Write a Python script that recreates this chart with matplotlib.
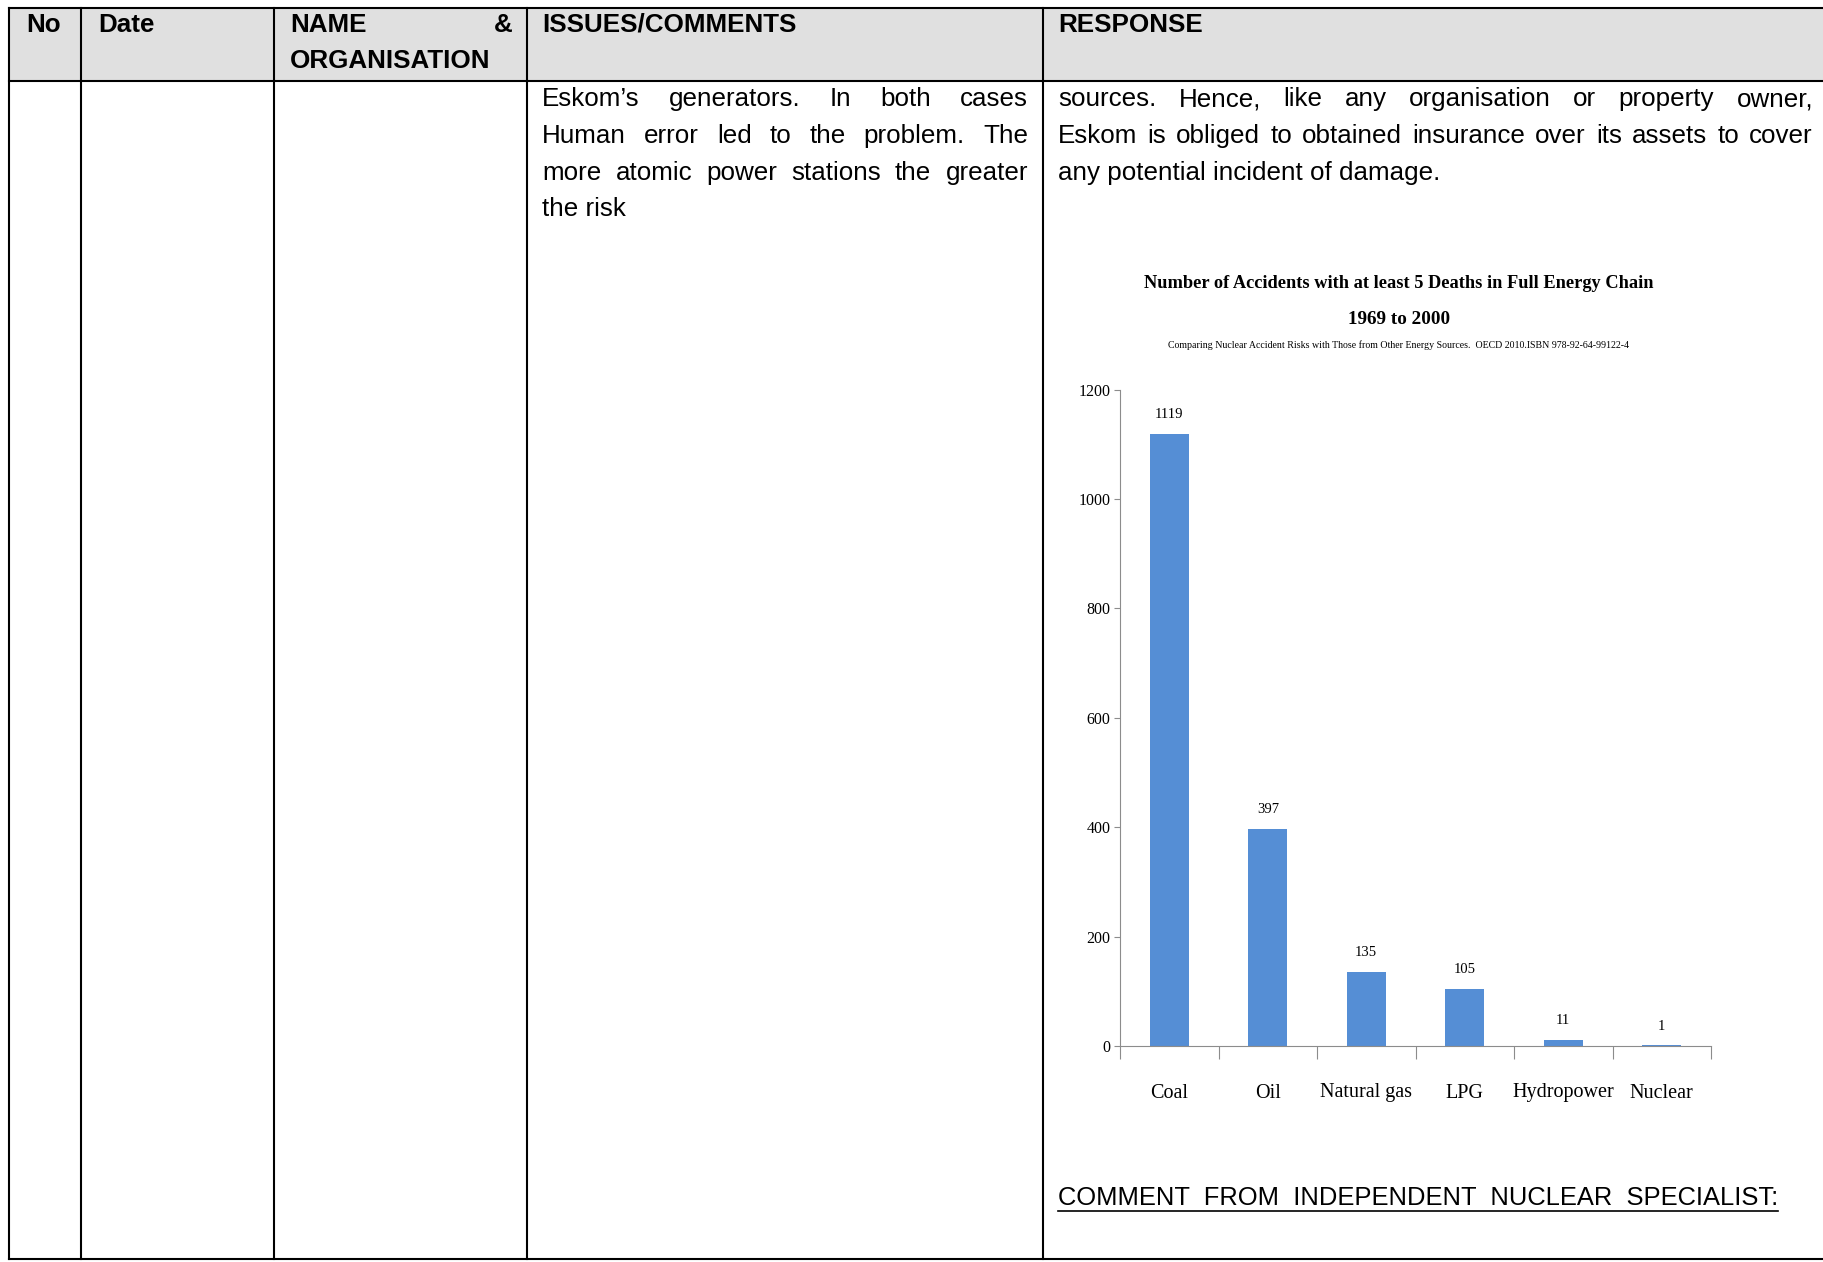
import numpy as np
import matplotlib
matplotlib.use("Agg")
import matplotlib.pyplot as plt
from matplotlib.lines import Line2D
from matplotlib.patches import Rectangle

W, H = 1823, 1262

categories = ["Coal", "Oil", "Natural gas", "LPG", "Hydropower", "Nuclear"]
accidents = [1119, 397, 135, 105, 11, 1]
y_ticks = [0, 200, 400, 600, 800, 1000, 1200]

chart_title = "Number of Accidents with at least 5 Deaths in Full Energy Chain"
chart_years = "1969 to 2000"
chart_source = ("Comparing Nuclear Accident Risks with Those from Other Energy Sources.  "
                "OECD 2010.ISBN 978-92-64-99122-4")

issues_lines = [
    "Eskom\u2019s generators. In both cases",
    "Human error led to the problem. The",
    "more atomic power stations the greater",
    "the risk",
]
response_lines = [
    "sources. Hence, like any organisation or property owner,",
    "Eskom is obliged to obtained insurance over its assets to cover",
    "any potential incident of damage.",
]
comment_heading = "COMMENT  FROM  INDEPENDENT  NUCLEAR  SPECIALIST:"

SANS = "Liberation Sans"
SERIF = "Liberation Serif"

fig = plt.figure(figsize=(W / 100, H / 100), dpi=100)
renderer = fig.canvas.get_renderer()


def fx(x):
    return x / W


def fy(y):
    return 1 - y / H


def line(x0, y0, x1, y1, lw=1.5, color="black"):
    fig.add_artist(Line2D([fx(x0), fx(x1)], [fy(y0), fy(y1)],
                          transform=fig.transFigure, color=color, lw=lw))


def put(x, y, s, **kw):
    kw.setdefault("va", "center")
    return fig.text(fx(x), fy(y), s, **kw)


def justify(lines, x0, x1, y0, step, **kw):
    # spread words so each line but the last fills x0..x1
    for i, ln in enumerate(lines):
        y = y0 + i * step
        words = ln.split()
        if i == len(lines) - 1 or len(words) < 2:
            put(x0, y, ln, **kw)
            continue
        texts = [put(0, y, w, **kw) for w in words]
        widths = [t.get_window_extent(renderer).width for t in texts]
        gap = (x1 - x0 - sum(widths)) / (len(words) - 1)
        x = x0
        for t, wd in zip(texts, widths):
            t.set_x(fx(x))
            x += wd + gap


# table frame
cols = [9, 81, 274, 527, 1043]
top, head_bot, bottom = 8, 81, 1259
fig.add_artist(Rectangle((fx(9), fy(head_bot)), fx(W) - fx(9), fy(top) - fy(head_bot),
                         transform=fig.transFigure, facecolor="#e0e0e0", edgecolor="none"))
line(9, top, W, top)
line(9, head_bot, W, head_bot)
line(9, bottom, W, bottom)
for c in cols:
    line(c, top, c, bottom)

body = dict(family=SANS, fontsize=18.7)
head = dict(family=SANS, fontsize=18.7, fontweight="bold")

put(26, 24.5, "No", **head)
put(98, 24.5, "Date", **head)
justify(["NAME &", "ORGANISATION"], 290, 513, 24.5, 37, **head)
put(542, 24.5, "ISSUES/COMMENTS", **head)
put(1058, 24.5, "RESPONSE", **head)

justify(issues_lines, 542, 1028, 99, 36.8, **body)
justify(response_lines, 1058, 1813, 99, 36.8, **body)

ct = put(1058, 1198, comment_heading, family=SANS, fontsize=18.4)
bb = ct.get_window_extent(renderer)
line(1058, H - bb.y0 + 1, 1058 + bb.width, H - bb.y0 + 1, lw=1.2)

# embedded chart
put(1399, 283.5, chart_title, family=SERIF, fontsize=13.2, fontweight="bold", ha="center")
put(1399, 319.5, chart_years, family=SERIF, fontsize=13.8, fontweight="bold", ha="center")
put(1399, 345.5, chart_source, family=SERIF, fontsize=7.1, ha="center")

ax = fig.add_axes([fx(1120), fy(1046), fx(1711) - fx(1120), fy(389.5) - fy(1046)])
ax.patch.set_alpha(0)
x = np.arange(len(categories))
ax.bar(x, accidents, width=0.4, color="#558ed5")
for xi, v in zip(x, accidents):
    ax.annotate(str(v), (xi, v), xytext=(0, 14), textcoords="offset points",
                ha="center", va="center", family=SERIF, fontsize=10.5)

ax.set_xlim(-0.5, len(categories) - 0.5)
ax.set_ylim(0, 1200)
ax.set_yticks(y_ticks)
ax.set_yticklabels([str(t) for t in y_ticks], family=SERIF, fontsize=11.5)
ax.set_xticks(x)
ax.set_xticklabels(categories, family=SERIF, fontsize=14.5)
ax.set_xticks(np.arange(-0.5, len(categories)), minor=True)
ax.tick_params(axis="x", which="major", length=0, pad=27)
ax.tick_params(axis="x", which="minor", length=9, color="#8c8c8c", width=0.8)
ax.tick_params(axis="y", length=4, color="#8c8c8c", width=0.8, pad=3)
for s in ["top", "right"]:
    ax.spines[s].set_visible(False)
for s in ["left", "bottom"]:
    ax.spines[s].set_color("#8c8c8c")
    ax.spines[s].set_linewidth(0.8)

fig.savefig("out.png", dpi=100)
